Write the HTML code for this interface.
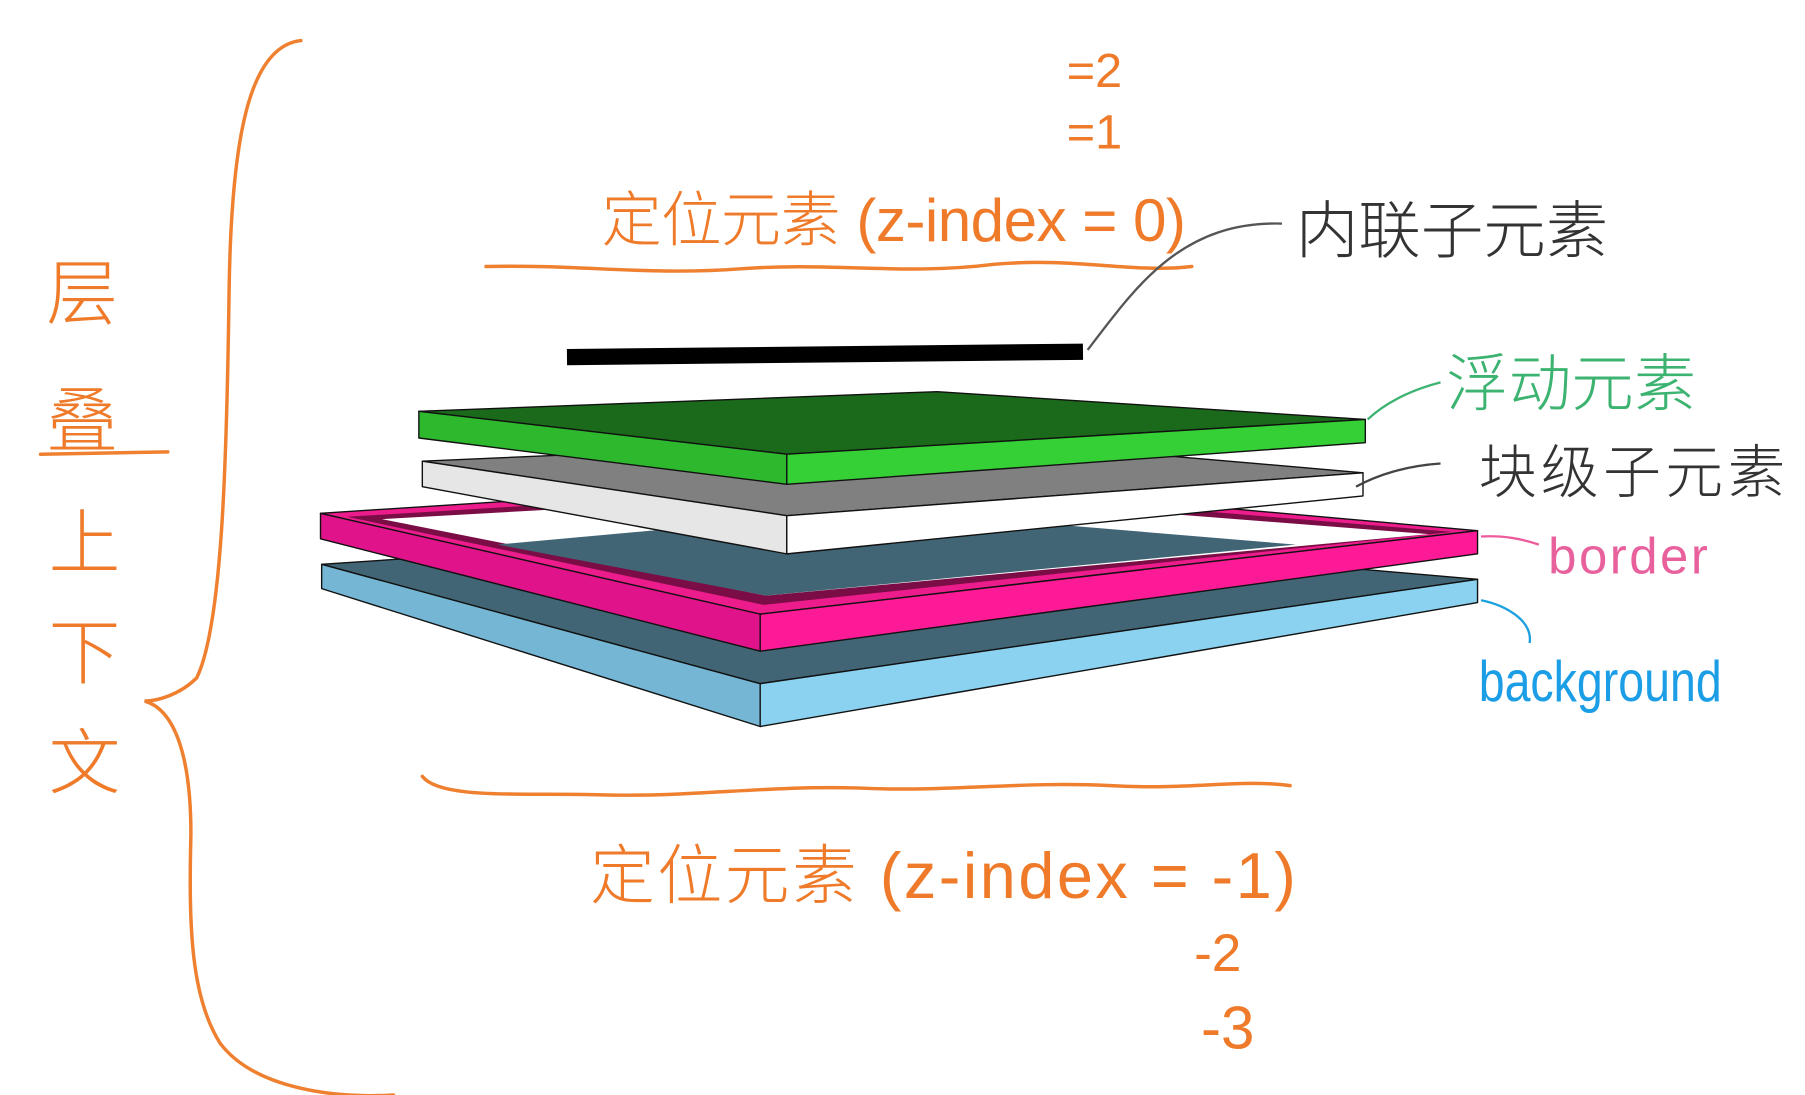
<!DOCTYPE html>
<html><head><meta charset="utf-8"><style>
html,body{margin:0;padding:0;background:#fff;width:1805px;height:1095px;overflow:hidden}
svg{display:block}
.o{fill:none;stroke:#ee8030;stroke-width:3;stroke-linecap:round}
.ot{fill:#ee7a2a;font-family:"Liberation Sans","Noto Sans CJK SC",sans-serif;font-weight:300}
.e{stroke:#111;stroke-width:1.2;stroke-linejoin:round}
</style></head><body>
<svg width="1805" height="1095" viewBox="0 0 1560 945" preserveAspectRatio="none">
<path class="o" d="M260,35 C215,40 200,120 198,250 C196,400 192,540 170,585 C155,600 135,605 125,605 C150,612 165,650 165,720 C163,800 165,860 190,900 C220,940 290,948 340,945"/>
<g>
<text class="ot" x="40" y="275" font-size="62">层</text>
<text class="ot" x="40" y="385" font-size="62">叠</text>
<path class="o" d="M35,392 L145,390"/>
<text class="ot" x="42" y="490" font-size="62">上</text>
<text class="ot" x="42" y="585" font-size="62">下</text>
<text class="ot" x="42" y="680" font-size="62">文</text>
</g>
<text class="ot" x="922" y="75" font-size="42">=2</text>
<text class="ot" x="922" y="128" font-size="42">=1</text>
<text class="ot" x="520" y="208" font-size="52" textLength="505">定位元素 (z-index = 0)</text>
<path class="o" d="M420,230 C500,228 560,238 640,232 C720,226 780,238 860,228 C930,222 980,236 1030,230"/>
<rect x="490" y="299" width="446" height="14" fill="#000" transform="rotate(-0.6 700 306)"/>
<path d="M940,302 C980,250 1020,190 1108,193" fill="none" stroke="#555" stroke-width="2"/>
<text x="1120" y="218" font-size="54" fill="#333" font-family="Liberation Sans,Noto Sans CJK SC,sans-serif" font-weight="300">内联子元素</text>
<g>
<polygon class="e" points="278,487 760,455 1277,500 657,590" fill="#426575"/>
<polygon class="e" points="278,487 278,508 657,627 657,590" fill="#74b6d4"/>
<polygon class="e" points="657,590 1277,500 1277,520 657,627" fill="#8ad2f0"/>
</g>
<g>
<polygon class="e" points="277,443 760,412 1277,458 657,530" fill="#ec1c8c"/>
<polygon points="300,446 760,418 1255,459 660,522" fill="#7a0d45"/>
<polygon points="330,448 760,424 1235,461 662,514" fill="#fff"/>
<polygon points="430,470 760,440 1120,470 662,514" fill="#426575"/>
<polygon class="e" points="277,443 277,465 657,562 657,530" fill="#e0138a"/>
<polygon class="e" points="657,530 1277,458 1277,478 657,562" fill="#fd1a96"/>
</g>
<g>
<polygon class="e" points="365,398 830,378 1178,408 680,445" fill="#808080"/>
<polygon class="e" points="365,398 365,420 680,478 680,445" fill="#e6e6e6"/>
<polygon class="e" points="680,445 1178,408 1178,428 680,478" fill="#fff"/>
</g>
<g>
<polygon class="e" points="362,355 810,338 1180,362 680,392" fill="#1b6a1b"/>
<polygon class="e" points="362,355 362,378 680,418 680,392" fill="#2eb82e"/>
<polygon class="e" points="680,392 1180,362 1180,382 680,418" fill="#35d035"/>
</g>
<path d="M1182,362 C1200,345 1225,335 1245,330" fill="none" stroke="#3cb371" stroke-width="2"/>
<text x="1250" y="350" font-size="54" fill="#3cb371" font-family="Liberation Sans,Noto Sans CJK SC,sans-serif" font-weight="300">浮动元素</text>
<path d="M1172,420 C1190,410 1215,402 1245,400" fill="none" stroke="#444" stroke-width="2"/>
<text x="1278" y="425" font-size="50" fill="#333" font-family="Liberation Sans,Noto Sans CJK SC,sans-serif" font-weight="300" textLength="265">块级子元素</text>
<path d="M1280,463 C1300,462 1315,465 1330,470" fill="none" stroke="#ec5c9c" stroke-width="2"/>
<text x="1338" y="495" font-size="44" fill="#e8609c" font-family="Liberation Sans,sans-serif" textLength="138">border</text>
<path d="M1280,518 C1300,522 1325,535 1322,555" fill="none" stroke="#1ca0e0" stroke-width="2"/>
<text x="1278" y="605" font-size="50" fill="#1c9ee6" font-family="Liberation Sans,sans-serif" textLength="210" lengthAdjust="spacingAndGlyphs">background</text>
<path class="o" d="M365,670 C380,690 450,684 520,686 C600,688 660,678 740,680 C820,684 880,674 960,678 C1030,682 1070,672 1115,678"/>
<text class="ot" x="510" y="775" font-size="56" textLength="610">定位元素 (z-index = -1)</text>
<text class="ot" x="1032" y="838" font-size="46">-2</text>
<text class="ot" x="1038" y="905" font-size="52">-3</text>
</svg>
</body></html>
